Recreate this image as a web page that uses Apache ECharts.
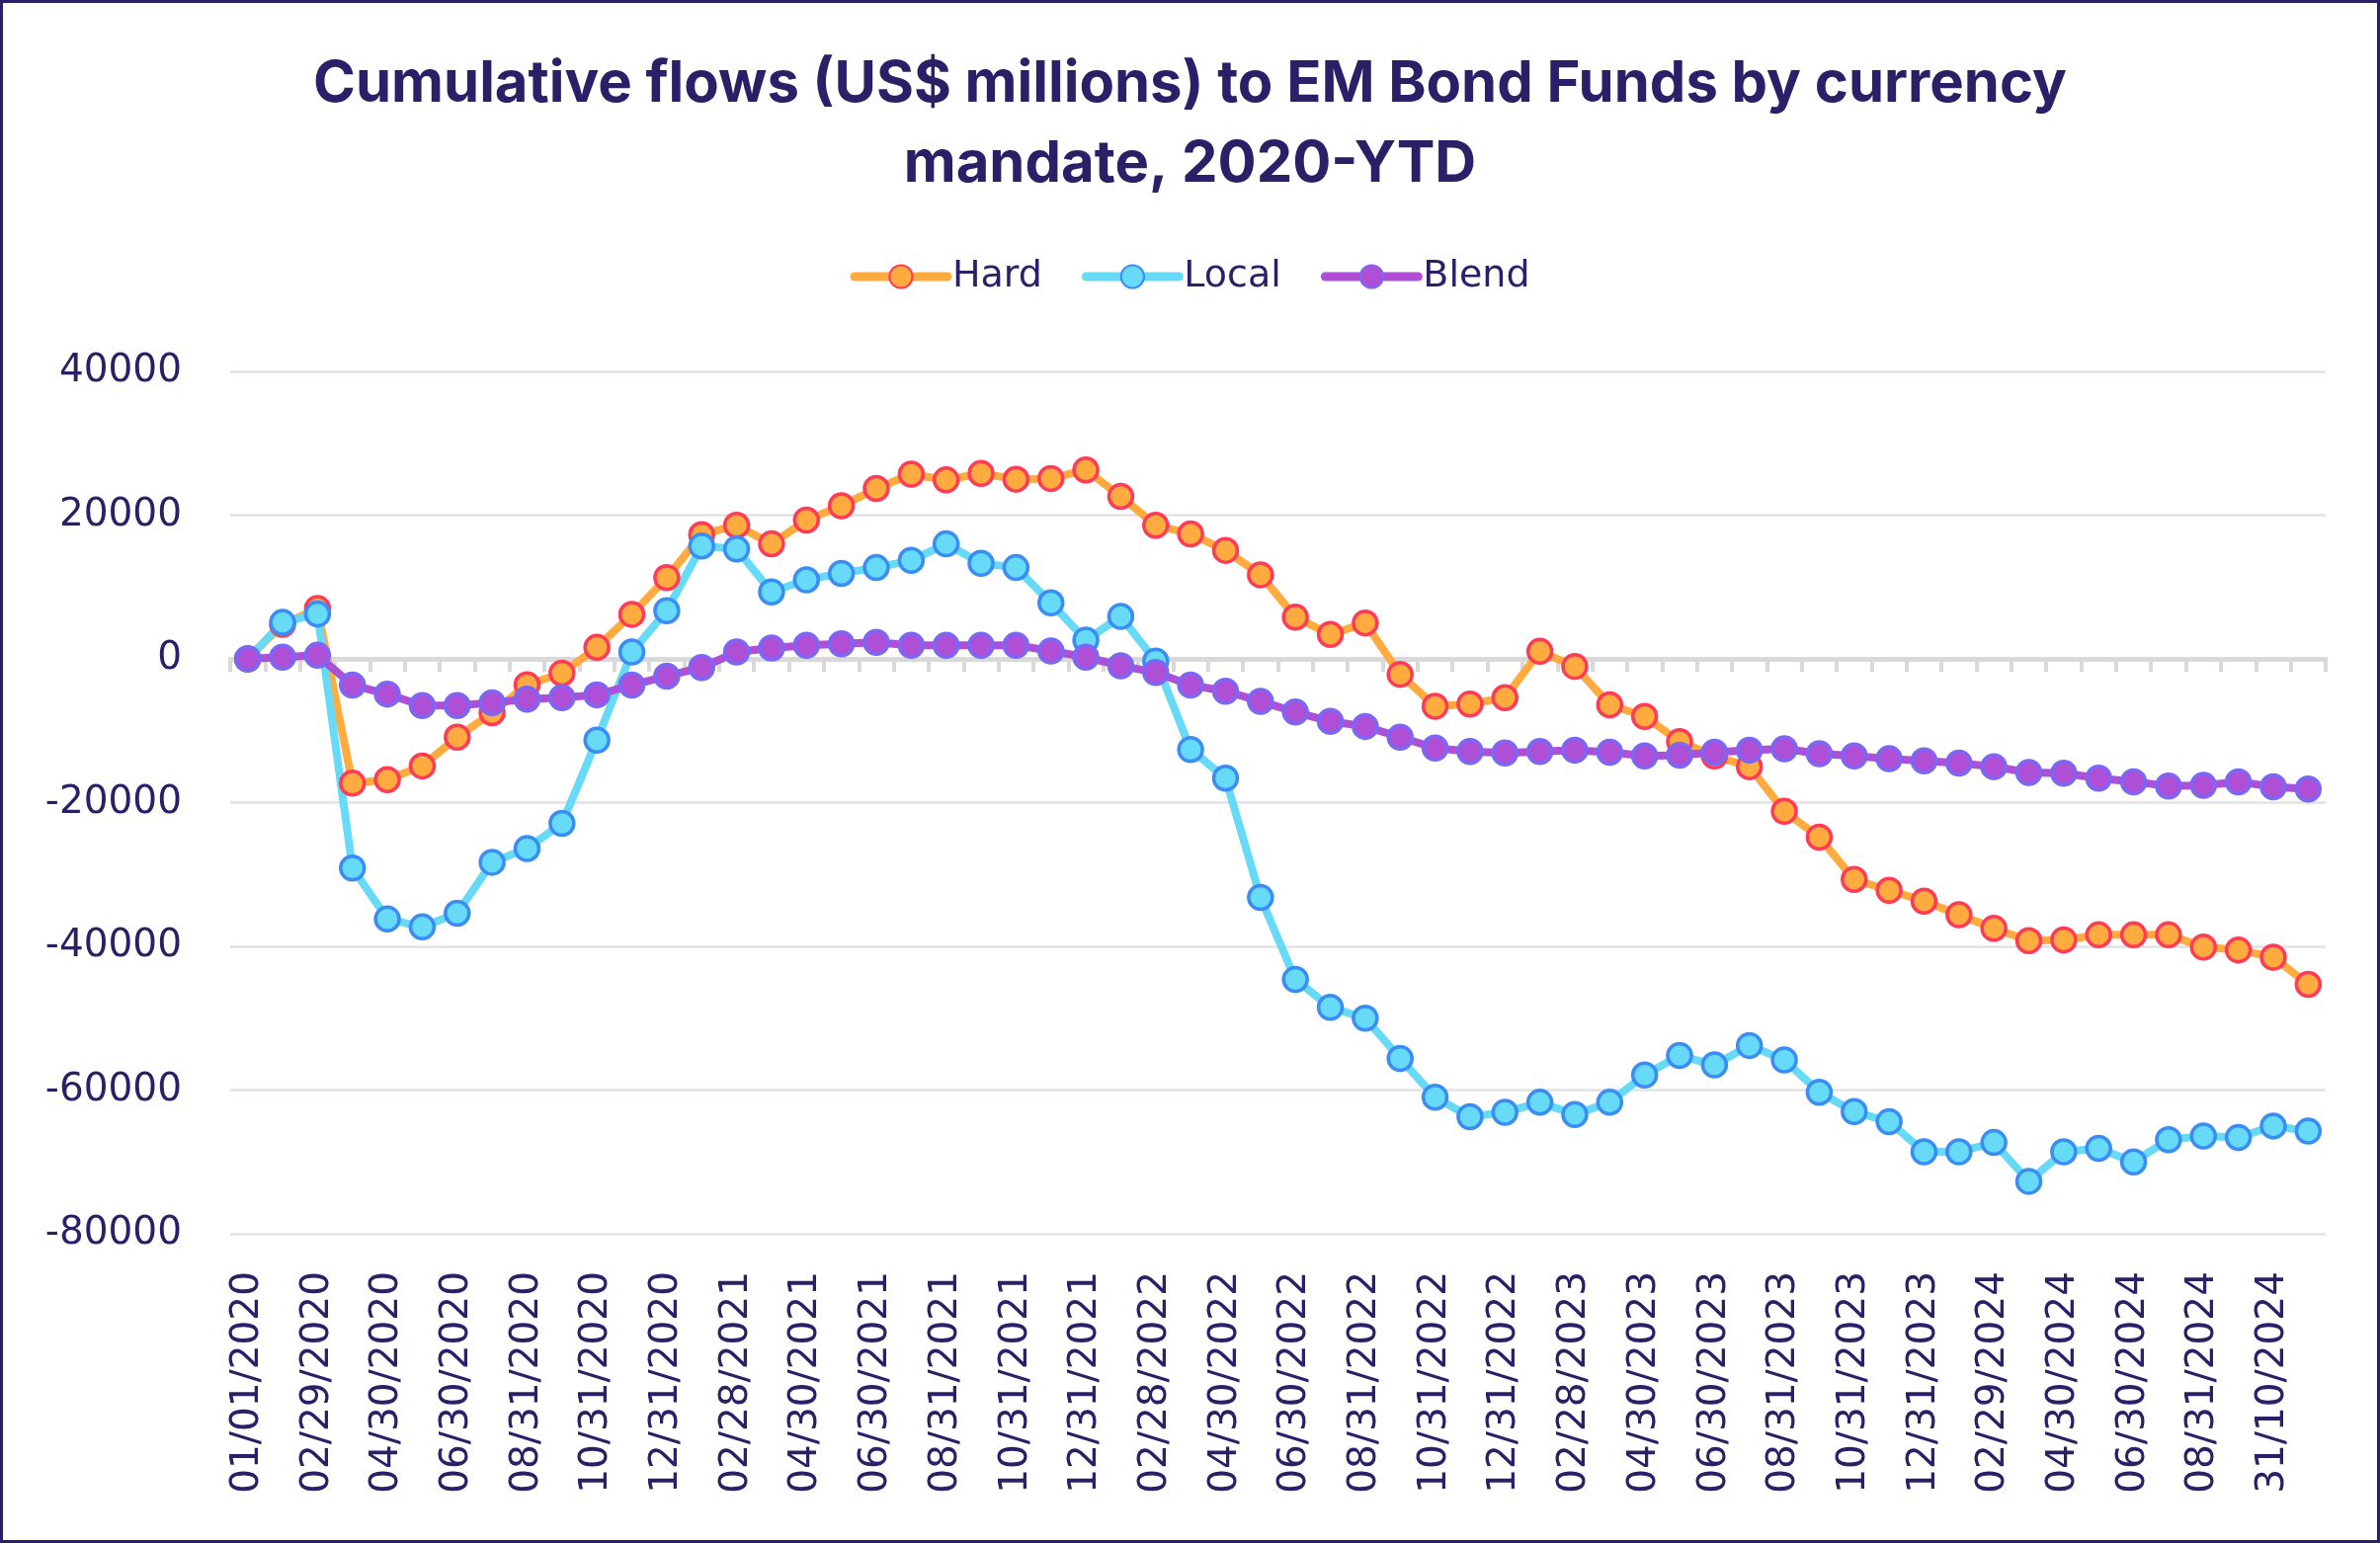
<!DOCTYPE html>
<html>
<head>
<meta charset="utf-8">
<script src="https://cdn.jsdelivr.net/npm/echarts@6/dist/echarts.min.js"></script>
<style>
html,body{margin:0;padding:0;background:#fff;}
#chart{width:2409px;height:1562px;}
</style>
</head>
<body>
<div id="chart"></div>
<script>
const categories = [
  "01/01/2020","01/31/2020","02/29/2020","03/31/2020","04/30/2020","05/31/2020","06/30/2020","07/31/2020","08/31/2020","09/30/2020","10/31/2020","11/30/2020","12/31/2020",
  "01/31/2021","02/28/2021","03/31/2021","04/30/2021","05/31/2021","06/30/2021","07/31/2021","08/31/2021","09/30/2021","10/31/2021","11/30/2021","12/31/2021",
  "01/31/2022","02/28/2022","03/31/2022","04/30/2022","05/31/2022","06/30/2022","07/31/2022","08/31/2022","09/30/2022","10/31/2022","11/30/2022","12/31/2022",
  "01/31/2023","02/28/2023","03/31/2023","04/30/2023","05/31/2023","06/30/2023","07/31/2023","08/31/2023","09/30/2023","10/31/2023","11/30/2023","12/31/2023",
  "01/31/2024","02/29/2024","03/31/2024","04/30/2024","05/31/2024","06/30/2024","07/31/2024","08/31/2024","30/09/2024","31/10/2024","30/11/2024"
];
const hard = [
  0, 4800, 7000, -17300, -16800, -14900, -10900, -7500, -3600, -2000, 1600, 6200, 11300,
  17300, 18600, 16000, 19300, 21300, 23700, 25700, 24900, 25800, 25000, 25100, 26300,
  22600, 18600, 17400, 15100, 11700, 5800, 3400, 5000, -2150, -6600, -6300, -5400,
  1050, -1050, -6400, -8000, -11500, -13500, -15000, -21200, -24800, -30700, -32200, -33700,
  -35600, -37500, -39200, -39100, -38400, -38400, -38400, -40100, -40500, -41500, -45300
];
const local = [
  0, 5070, 6260, -29100, -36200, -37300, -35400, -28300, -26400, -22900, -11300, 950, 6700,
  15700, 15300, 9300, 11000, 11900, 12700, 13700, 16000, 13300, 12700, 7800, 2600,
  5900, -300, -12600, -16600, -33200, -44600, -48500, -50000, -55600, -61000, -63700, -63100,
  -61700, -63400, -61700, -57900, -55200, -56500, -53800, -55800, -60300, -63000, -64400, -68600,
  -68600, -67300, -72700, -68600, -68100, -70000, -66900, -66400, -66600, -65000, -65700
];
const blend = [
  0, 240, 500, -3650, -4900, -6500, -6500, -6100, -5600, -5400, -5000, -3650, -2400,
  -1200, 950, 1500, 1900, 2100, 2300, 1900, 1900, 1900, 1900, 1100, 240,
  -950, -1900, -3650, -4500, -5900, -7400, -8700, -9400, -10900, -12400, -12900, -13100,
  -12900, -12700, -13000, -13500, -13400, -13000, -12700, -12500, -13200, -13500, -13900, -14200,
  -14500, -15000, -15800, -15900, -16600, -17100, -17700, -17600, -17100, -17800, -18100
];
const yTicks = { min: -80000, max: 40000, interval: 20000 };

const navy = '#2B2068';
const font = 'DejaVu Sans';

function mkSeries(name, data, lineColor, borderColor) {
  return {
    name: name, type: 'line', data: data, xAxisIndex: 0, yAxisIndex: 0,
    symbol: 'circle', symbolSize: 24, showAllSymbol: true,
    lineStyle: { color: lineColor, width: 8 },
    itemStyle: { color: lineColor, borderColor: borderColor, borderWidth: 3.5 },
    emphasis: { disabled: true },
    animation: false
  };
}

const chart = echarts.init(document.getElementById('chart'));
chart.setOption({
  animation: false,
  backgroundColor: '#ffffff',
  title: {
    text: 'Cumulative flows (US$ millions) to EM Bond Funds by currency\nmandate, 2020-YTD',
    left: 'center', top: 40,
    textStyle: { fontFamily: 'Inter', fontWeight: 'bold', fontSize: 58, lineHeight: 81, color: navy }
  },
  legend: {
    top: 256, left: 'center',
    itemWidth: 94, itemHeight: 29, itemGap: 40,
    lineStyle: { width: 9, cap: 'round' },
    textStyle: { fontFamily: font, fontSize: 38, color: navy },
    data: ['Hard', 'Local', 'Blend']
  },
  grid: { left: 233, right: 55, top: 376, bottom: 313, containLabel: false },
  xAxis: [
    {
      type: 'category', data: categories, boundaryGap: true, position: 'bottom',
      axisLine: { show: false, onZero: false },
      axisTick: { show: false },
      axisLabel: { interval: 1, rotate: 90, margin: 38, fontFamily: font, fontSize: 39, color: navy }
    },
    {
      type: 'category', data: categories, boundaryGap: true, position: 'top',
      axisLine: { show: true, onZero: true, lineStyle: { color: '#d9d9d9', width: 5 } },
      axisTick: { show: true, inside: true, interval: 0, length: 13, lineStyle: { color: '#d9d9d9', width: 4 } },
      axisLabel: { show: false }
    }
  ],
  yAxis: {
    type: 'value', min: yTicks.min, max: yTicks.max, interval: yTicks.interval,
    axisLine: { show: false }, axisTick: { show: false },
    axisLabel: { margin: 49, fontFamily: font, fontSize: 39, color: navy, formatter: function (v) { return String(v); } },
    splitLine: { lineStyle: { color: '#e2e2e2', width: 2.5 } }
  },
  series: [
    mkSeries('Hard', hard, '#FFAB40', '#FF3B57'),
    mkSeries('Local', local, '#66DAF7', '#3A8DF4'),
    mkSeries('Blend', blend, '#AE4FD6', '#7A68F5')
  ],
  graphic: [{
    type: 'rect', silent: true, z: 100,
    shape: { x: 1.5, y: 1.5, width: 2406, height: 1559 },
    style: { fill: 'none', stroke: navy, lineWidth: 3 }
  }]
});
</script>
</body>
</html>
